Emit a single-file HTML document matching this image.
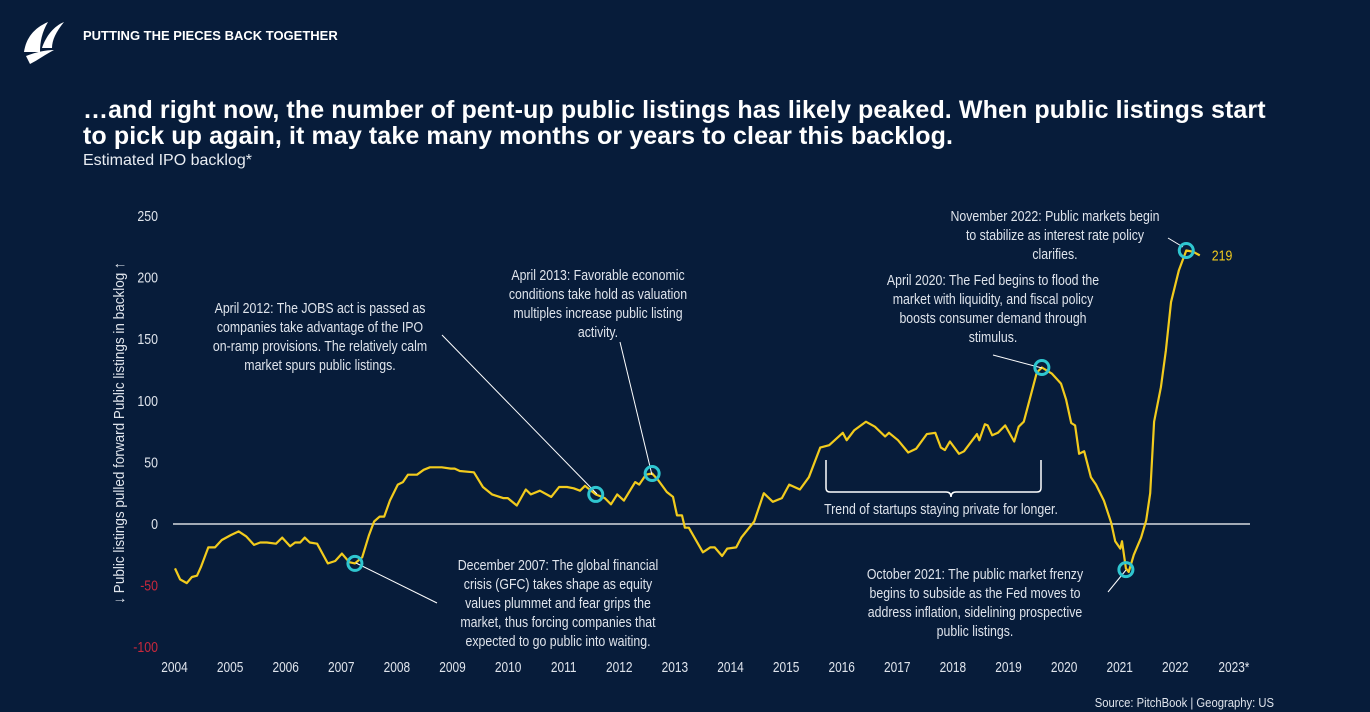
<!DOCTYPE html>
<html><head><meta charset="utf-8">
<style>
html,body{margin:0;padding:0;background:#071c3a;}
body{width:1370px;height:712px;position:relative;overflow:hidden;font-family:"Liberation Sans",sans-serif;color:#fff;}
.hdr{position:absolute;left:83px;top:28px;font-weight:bold;font-size:13px;}
.title{position:absolute;left:83px;top:97px;font-weight:bold;font-size:25px;line-height:26px;letter-spacing:0.1px;width:1280px;white-space:nowrap;}
.sub{position:absolute;left:83px;top:152px;font-size:16px;color:#e8ecf2;}
svg{position:absolute;left:0;top:0;}
.ann{font-family:"Liberation Sans",sans-serif;font-size:14.5px;fill:#dfe4ec;}
.tick{font-family:"Liberation Sans",sans-serif;font-size:14.5px;fill:#dfe4ec;}
</style></head>
<body>
<svg width="60" height="60" style="left:16px;top:14px" viewBox="0 0 60 60">
<path d="M8 38 C10 24 18 14 32 8 C26 18 24 28 24 38 Z" fill="#fff"/>
<path d="M26 34 C30 22 38 12 48 8 C40 18 36 26 36 34 Z" fill="#fff"/>
<path d="M10 42 C20 38 30 36 38 36 C30 40 22 46 14 50 Z" fill="#fff"/>
</svg>
<div class="hdr">PUTTING THE PIECES BACK TOGETHER</div>
<div class="title">…and right now, the number of pent-up public listings has likely peaked. When public listings start<br>to pick up again, it may take many months or years to clear this backlog.</div>
<div class="sub">Estimated IPO backlog*</div>

<svg id="chart" width="1370" height="712"></svg>

<script>
const years = [2004.00,2004.09,2004.21,2004.30,2004.39,2004.46,2004.59,2004.71,2004.83,2004.99,2005.13,2005.26,2005.40,2005.51,2005.63,2005.79,2005.90,2006.04,2006.13,2006.22,2006.30,2006.39,2006.52,2006.71,2006.84,2006.96,2007.09,2007.19,2007.32,2007.44,2007.53,2007.63,2007.71,2007.81,2007.95,2008.04,2008.13,2008.29,2008.41,2008.52,2008.73,2008.89,2008.96,2009.05,2009.30,2009.46,2009.62,2009.82,2009.90,2010.06,2010.22,2010.31,2010.47,2010.67,2010.81,2010.95,2011.07,2011.18,2011.27,2011.46,2011.62,2011.73,2011.84,2011.96,2012.16,2012.23,2012.35,2012.46,2012.56,2012.72,2012.83,2012.90,2012.99,2013.04,2013.11,2013.36,2013.49,2013.57,2013.70,2013.79,2013.95,2014.04,2014.27,2014.44,2014.60,2014.76,2014.89,2015.08,2015.24,2015.44,2015.60,2015.84,2015.91,2016.04,2016.25,2016.41,2016.59,2016.66,2016.82,2017.00,2017.14,2017.33,2017.48,2017.58,2017.65,2017.74,2017.90,2017.99,2018.22,2018.26,2018.36,2018.41,2018.49,2018.59,2018.72,2018.88,2018.96,2019.05,2019.16,2019.28,2019.37,2019.55,2019.71,2019.80,2019.89,2019.96,2020.03,2020.12,2020.24,2020.33,2020.47,2020.60,2020.67,2020.76,2020.79,2020.86,2020.91,2021.00,2021.13,2021.22,2021.29,2021.36,2021.48,2021.57,2021.66,2021.80,2021.93,2022.05,2022.17];
const values = [-36,-45,-48,-43,-42,-35,-19,-19,-13,-9,-6,-10,-17,-15,-15,-16,-11,-18,-15,-15,-11,-15,-16,-32,-30,-24,-31,-32,-27,-9,2,6,6,19,32,34,40,40,44,46,46,45,45,43,42,30,24,21,21,15,28,24,27,22,30,30,29,27,31,24,21,16,24,19,34,32,40,41,36,26,22,7,7,-3,-3,-23,-19,-19,-26,-20,-19,-11,2,25,18,21,32,28,38,62,64,74,68,76,83,79,71,74,68,58,61,73,74,62,60,67,57,59,73,68,81,80,72,74,80,67,79,83,102,123,127,122,114,101,82,80,57,59,38,32,19,1,-14,-20,-14,-36,-39,-25,-11,3,25,83,111,141,180,206,222,221,218];
const highlightYears = [2007.19,2011.46,2012.46,2019.37,2020.86,2021.93];
const highlightValues = [-32,24,41,127,-37,222];
const yTicks = [250,200,150,100,50,0,-50,-100];
const xTickLabels = ["2004","2005","2006","2007","2008","2009","2010","2011","2012","2013","2014","2015","2016","2017","2018","2019","2020","2021","2022","2023*"];
const lastLabel = "219";

const NS="http://www.w3.org/2000/svg";
const svg=document.getElementById('chart');
function x(yr){return 175+(yr-2004)*56.4;}
function y(v){return 524-1.232*v;}
function xl(i){return 174.5+i*55.6;}
function mk(tag,attrs){const e=document.createElementNS(NS,tag);for(const k in attrs)e.setAttribute(k,attrs[k]);svg.appendChild(e);return e;}
function squeeze(el,f){const L=el.getComputedTextLength();el.setAttribute('textLength',(L*f).toFixed(1));el.setAttribute('lengthAdjust','spacingAndGlyphs');}

yTicks.forEach(v=>{
  const t=mk('text',{x:158,y:y(v)+5,'text-anchor':'end',class:'tick'});
  
  
  if(v<0)t.setAttribute('style','fill:#c8283c');
  t.textContent=v;
  squeeze(t,0.85);
});
xTickLabels.forEach((s,i)=>{
  const t=mk('text',{x:xl(i)+(s.length>4?3:0),y:672,'text-anchor':'middle',class:'tick'});
  
  
  t.textContent=s;
  squeeze(t,0.82);
});
const yt=mk('text',{x:0,y:0,transform:'translate(124,433) rotate(-90)','text-anchor':'middle',class:'tick',style:'font-size:15px'});


yt.textContent='↓ Public listings pulled forward   Public listings in backlog ↑';
squeeze(yt,0.9);
const zl=mk('line',{x1:173,x2:1250,y1:y(0),y2:y(0),stroke:'#fff','stroke-width':1.3});


const d=years.map((yr,i)=>(i?'L':'M')+x(yr).toFixed(1)+' '+y(values[i]).toFixed(1)).join(' ');
const ln=mk('path',{d:d,fill:'none',stroke:'#f2cb1d','stroke-width':2.2,'stroke-linejoin':'round'});


const lbl=mk('text',{x:x(years[years.length-1])+12,y:y(values[values.length-1])+5,style:'fill:#f2cb1d',class:'tick'});


lbl.textContent=lastLabel;
squeeze(lbl,0.85);

const leaders=[[437,603,356,563],[442,335,597,494],[620,342,652,475],[993,355,1042,368],[1108,592,1126,570],[1168,238,1183,247]];
leaders.forEach(l=>{
  const e=mk('line',{x1:l[0],y1:l[1],x2:l[2],y2:l[3],stroke:'#fff','stroke-width':1});
  
  
});
highlightYears.forEach((yr,i)=>{
  const c=mk('circle',{cx:x(yr),cy:y(highlightValues[i]),r:7,fill:'none',stroke:'#2fc6d0','stroke-width':3});
  
  
});
const br=mk('path',{d:'M826 460 L826 488 Q826 492 830 492 L946 492 Q951 492 951 497 Q951 492 956 492 L1037 492 Q1041 492 1041 488 L1041 460',fill:'none',stroke:'#fff','stroke-width':1.5});



const anns=[
 [1055,221,['November 2022: Public markets begin','to stabilize as interest rate policy','clarifies.']],
 [598,280,['April 2013: Favorable economic','conditions take hold as valuation','multiples increase public listing','activity.']],
 [320,313,['April 2012: The JOBS act is passed as','companies take advantage of the IPO','on-ramp provisions. The relatively calm','market spurs public listings.']],
 [993,285,['April 2020: The Fed begins to flood the','market with liquidity, and fiscal policy','boosts consumer demand through','stimulus.']],
 [941,514,['Trend of startups staying private for longer.']],
 [558,570,['December 2007: The global financial','crisis (GFC) takes shape as equity','values plummet and fear grips the','market, thus forcing companies that','expected to go public into waiting.']],
 [975,579,['October 2021: The public market frenzy','begins to subside as the Fed moves to','address inflation, sidelining prospective','public listings.']]
];
anns.forEach(a=>{
  const t=mk('text',{x:a[0],y:a[1],'text-anchor':'middle',class:'ann'});
  
  
  a[2].forEach((s,i)=>{const ts=document.createElementNS(NS,'tspan');ts.setAttribute('x',a[0]);ts.setAttribute('y',a[1]+i*19);ts.textContent=s;t.appendChild(ts);squeeze(ts,0.85);});
});
const src=mk('text',{x:1274,y:707,'text-anchor':'end',class:'tick',style:'font-size:12.5px'});


src.textContent='Source: PitchBook | Geography: US';
squeeze(src,0.9);
</script>
</body></html>
